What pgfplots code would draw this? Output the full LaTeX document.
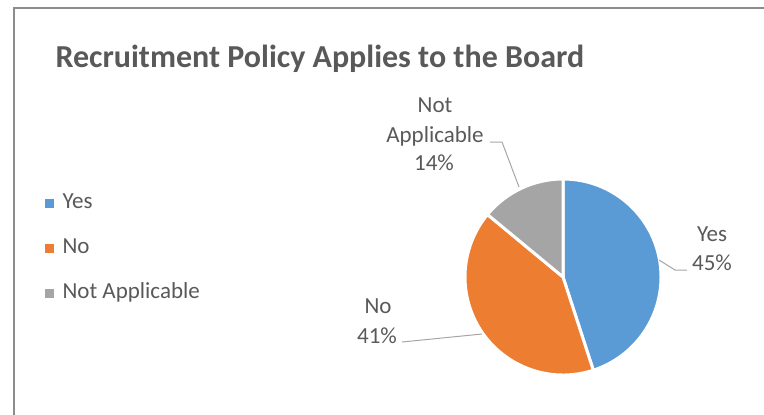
\documentclass[border=0pt]{standalone}
\usepackage{pgfplots}
\pgfplotsset{compat=1.18}
\usepackage{fontspec}
\setmainfont{Carlito}
\definecolor{cYes}{HTML}{5B9BD5}
\definecolor{cNo}{HTML}{ED7D31}
\definecolor{cNA}{HTML}{A5A5A5}
\definecolor{txt}{HTML}{595959}
\definecolor{frame}{HTML}{8C8C8C}
\definecolor{leader}{HTML}{A6A6A6}
\newcommand\lab{\fontsize{23bp}{28bp}\selectfont}

% shares (percent)
\def\vYes{45}
\def\vNo{41}
\def\vNA{14}

\begin{document}
\begin{tikzpicture}
\pgfmathsetmacro\aA{90}
\pgfmathsetmacro\aB{\aA-3.6*\vYes}
\pgfmathsetmacro\aC{\aB-3.6*\vNo}
\pgfmathsetmacro\aD{\aC-3.6*\vNA}
\begin{axis}[
    at={(0,0)}, anchor=south west,
    width=764bp, height=415bp, scale only axis,
    xmin=0, xmax=764, ymin=0, ymax=415, y dir=reverse,
    hide axis, clip=false,
    legend style={at={(axis cs:45,192)}, anchor=north west, draw=none, fill=none,
        inner sep=0pt, row sep=24bp, column sep=9bp, font=\lab, text=txt,
        nodes={inner sep=0pt, text height=16bp, text depth=5bp}},
    legend image code/.code={\fill[#1] (0bp,-4bp) rectangle (8bp,4bp);},
    legend cell align=left,
]
\addlegendimage{cYes}\addlegendentry{Yes}
\addlegendimage{cNo}\addlegendentry{No}
\addlegendimage{cNA}\addlegendentry{Not Applicable}

% frame
\draw[frame, line width=1.5bp] (axis cs:14,415) -- (axis cs:14,8) -- (axis cs:764,8);

% title
\node[anchor=base west, text=txt, font=\fontsize{32bp}{38bp}\selectfont\bfseries]
    at (axis cs:52,68) {Recruitment Policy Applies to the Board};

% slices
\fill[cYes, draw=white, line width=3bp] (axis cs:563,277) -- ++(\aA:98bp)
    arc[start angle=\aA, end angle=\aB, radius=98bp] -- cycle;
\fill[cNo, draw=white, line width=3bp] (axis cs:563,277) -- ++(\aB:98bp)
    arc[start angle=\aB, end angle=\aC, radius=98bp] -- cycle;
\fill[cNA, draw=white, line width=3bp] (axis cs:563,277) -- ++(\aC:98bp)
    arc[start angle=\aC, end angle=\aD, radius=98bp] -- cycle;

% data labels
\node[anchor=base, text=txt, font=\lab] at (axis cs:435,112) {Not};
\node[anchor=base, text=txt, font=\lab] at (axis cs:435,142) {Applicable};
\node[anchor=base, text=txt, font=\lab] at (axis cs:434,170) {\vNA\%};
\node[anchor=base, text=txt, font=\lab] at (axis cs:712,241) {Yes};
\node[anchor=base, text=txt, font=\lab] at (axis cs:712,270) {\vYes\%};
\node[anchor=base, text=txt, font=\lab] at (axis cs:378,313) {No};
\node[anchor=base, text=txt, font=\lab] at (axis cs:377,343) {\vNo\%};

% leader lines
\draw[leader, line width=1bp] (axis cs:490,142) -- (axis cs:502,142) -- (axis cs:519,187);
\draw[leader, line width=1bp] (axis cs:659,260) -- (axis cs:675,270) -- (axis cs:687,270);
\draw[leader, line width=1bp] (axis cs:402,342) -- (axis cs:482,334);
\end{axis}
\pgfresetboundingbox
\path (0,0) rectangle (764bp,415bp);
\end{tikzpicture}
\end{document}
